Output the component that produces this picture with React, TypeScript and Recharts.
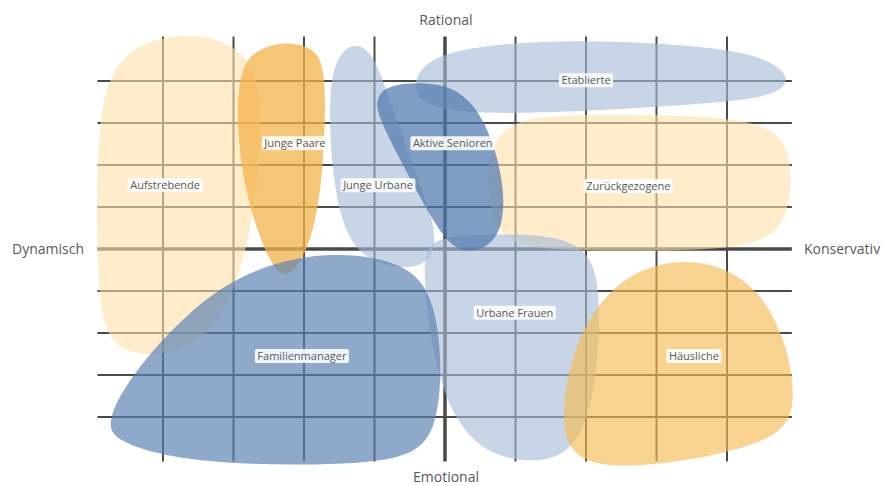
import React from "react";
import { ScatterChart, Scatter, XAxis, YAxis, Curve } from "recharts";

type Pt = [number, number];

// Segment outlines in chart units (x: dynamisch(-) .. konservativ(+), y: emotional(-) .. rational(+))
const aufstrebende: Pt[] = [
  [-4.92, 2.83], [-4.78, 4.14], [-4.4, 4.86], [-3.76, 5.14], [-3.08, 4.98], [-2.65, 4.26],
  [-2.6, 2.83], [-2.7, 0.93], [-2.94, -0.86], [-3.33, -2.05], [-3.9, -2.55], [-4.54, -2.5],
  [-4.89, -1.93], [-4.95, 0.45],
];
const jungePaare: Pt[] = [
  [-2.91, 4.26], [-2.7, 4.74], [-2.27, 4.96], [-1.84, 4.79], [-1.7, 4.26], [-1.7, 2.83],
  [-1.77, 1.17], [-1.94, -0.02], [-2.2, -0.69], [-2.41, -0.55], [-2.65, 0.33], [-2.87, 1.64],
  [-2.96, 3.07],
];
const jungeUrbane: Pt[] = [
  [-1.59, 4.26], [-1.46, 4.74], [-1.23, 4.9], [-1.01, 4.62], [-0.78, 3.55], [-0.47, 2.0],
  [-0.12, 0.57], [-0.16, -0.3], [-0.57, -0.5], [-1.17, -0.26], [-1.48, 0.6], [-1.62, 2.12],
  [-1.64, 3.55],
];
const aktiveSenioren: Pt[] = [
  [-0.95, 3.67], [-0.78, 3.93], [-0.14, 3.98], [0.33, 3.67], [0.67, 2.71], [0.87, 1.29],
  [0.78, 0.21], [0.38, -0.12], [0.04, 0.07], [-0.35, 1.21], [-0.71, 2.36], [-0.99, 3.31],
];
const etablierte: Pt[] = [
  [-0.47, 3.9], [-0.28, 4.5], [0.35, 4.81], [1.35, 4.95], [2.48, 4.95], [3.62, 4.83],
  [4.47, 4.62], [4.92, 4.14], [4.75, 3.67], [3.9, 3.48], [2.77, 3.36], [1.63, 3.26],
  [0.35, 3.21], [-0.33, 3.43],
];
const zurueckgezogene: Pt[] = [
  [0.62, 2.3], [0.9, 3.05], [1.63, 3.2], [3.05, 3.2], [4.33, 3.1], [4.9, 2.6],
  [4.93, 1.17], [4.68, 0.14], [3.62, -0.04], [2.2, -0.04], [1.06, 0.0], [0.7, 0.5],
  [0.6, 1.4],
];
const urbaneFrauen: Pt[] = [
  [-0.28, -0.02], [-0.07, 0.31], [0.78, 0.36], [1.7, 0.31], [2.11, -0.21], [2.2, -1.21],
  [2.17, -2.88], [1.99, -4.31], [1.63, -5.02], [1.06, -5.07], [0.5, -4.79], [0.04, -3.83],
  [-0.21, -2.17], [-0.3, -0.74],
];
const haeusliche: Pt[] = [
  [2.2, -1.21], [2.7, -0.5], [3.4, -0.21], [4.11, -0.5], [4.61, -1.33], [4.89, -2.52],
  [4.98, -3.83], [4.72, -4.48], [3.9, -4.9], [2.91, -5.17], [2.06, -5.17], [1.69, -4.67],
  [1.67, -3.6], [1.84, -2.29],
];
const familienmanager: Pt[] = [
  [-4.78, -4.07], [-4.54, -3.24], [-3.97, -2.05], [-3.19, -0.86], [-2.34, -0.26], [-1.49, -0.07],
  [-0.57, -0.31], [-0.16, -1.1], [-0.04, -2.64], [-0.1, -4.19], [-0.43, -4.98], [-1.49, -5.14],
  [-2.77, -5.14], [-3.9, -4.98], [-4.72, -4.55],
];

// Segment names and label anchor points
const segmentNames = [
  "Etablierte", "Junge Paare", "Aktive Senioren", "Aufstrebende", "Junge Urbane",
  "Zurückgezogene", "Urbane Frauen", "Familienmanager", "Häusliche",
];
const labelX = [2.0, -2.13, 0.11, -3.97, -0.95, 2.6, 0.99, -2.03, 3.53];
const labelY = [4.02, 2.52, 2.52, 1.52, 1.52, 1.5, -1.52, -2.55, -2.55];

// Grid
const gridX = [-4, -3, -2, -1, 0, 1, 2, 3, 4];
const gridY = [-4, -3, -2, -1, 0, 1, 2, 3, 4];
const gridXExtent: [number, number] = [-4.93, 4.92];
const gridYExtent: [number, number] = [-5.06, 5.06];

// Axis captions
const captionTop = "Rational";
const captionBottom = "Emotional";
const captionLeft = "Dynamisch";
const captionRight = "Konservativ";

const LIGHT_ORANGE = { fill: "#fde0a8", opacity: 0.6 };
const ORANGE = { fill: "#f3b34a", opacity: 0.75 };
const ORANGE2 = { fill: "#f6bb52", opacity: 0.64 };
const LIGHT_BLUE = { fill: "#a4bbd9", opacity: 0.62 };
const BLUE = { fill: "#4f78ad", opacity: 0.72 };
const BLUE2 = { fill: "#5a80b2", opacity: 0.68 };

const blobs: { key: string; pts: Pt[]; style: { fill: string; opacity: number } }[] = [
  { key: "aufstrebende", pts: aufstrebende, style: LIGHT_ORANGE },
  { key: "zurueckgezogene", pts: zurueckgezogene, style: LIGHT_ORANGE },
  { key: "etablierte", pts: etablierte, style: LIGHT_BLUE },
  { key: "jungeUrbane", pts: jungeUrbane, style: LIGHT_BLUE },
  { key: "urbaneFrauen", pts: urbaneFrauen, style: LIGHT_BLUE },
  { key: "jungePaare", pts: jungePaare, style: ORANGE },
  { key: "aktiveSenioren", pts: aktiveSenioren, style: BLUE },
  { key: "haeusliche", pts: haeusliche, style: ORANGE2 },
  { key: "familienmanager", pts: familienmanager, style: BLUE2 },
];

const FONT = '"Open Sans", "Noto Sans", sans-serif';
const TEXT_COLOR = "#58595b";

let measureCtx: CanvasRenderingContext2D | null = null;
function textWidth(t: string, font: string) {
  if (!measureCtx) {
    const c = document.createElement("canvas");
    measureCtx = c.getContext("2d");
  }
  if (!measureCtx) return t.length * 6;
  measureCtx.font = font;
  return measureCtx.measureText(t).width;
}

const LabelShape = (p: any) => {
  const name: string = p.payload?.name ?? "";
  const w = textWidth(name, `11px ${FONT}`) + 5;
  const h = 14;
  return (
    <g>
      <rect x={p.cx - w / 2} y={p.cy - h / 2} width={w} height={h} rx={2} fill="#ffffff" fillOpacity={0.88} />
      <text x={p.cx} y={p.cy + 4} textAnchor="middle" fontSize={11} fontFamily={FONT} fill={TEXT_COLOR}>
        {name}
      </text>
    </g>
  );
};

const NoShape = () => <g />;

const W = 887;
const H = 486;
const X_DOMAIN: [number, number] = [-5.5, 5.5];
const Y_DOMAIN: [number, number] = [-5.5, 5.5];

export default function App() {
  const labelData = segmentNames.map((name, i) => ({ x: labelX[i], y: labelY[i], name }));
  return (
    <div style={{ position: "absolute", left: 0, top: 0, width: W, height: H, background: "#fff" }}>
      <ScatterChart width={W} height={H} margin={{ top: 18, right: 54.25, bottom: 6, left: 57.25 }}>
        <XAxis type="number" dataKey="x" domain={X_DOMAIN} allowDataOverflow hide />
        <YAxis type="number" dataKey="y" domain={Y_DOMAIN} allowDataOverflow hide />
        {gridX.map((gx) => (
          <Scatter
            key={`gx${gx}`}
            data={[{ x: gx, y: gridYExtent[0] }, { x: gx, y: gridYExtent[1] }]}
            shape={NoShape}
            line={{ stroke: "#4a4a4a", strokeWidth: gx === 0 ? 3.5 : 2 }}
            lineType="joint"
            isAnimationActive={false}
          />
        ))}
        {gridY.map((gy) => (
          <Scatter
            key={`gy${gy}`}
            data={[{ x: gridXExtent[0], y: gy }, { x: gridXExtent[1], y: gy }]}
            shape={NoShape}
            line={{ stroke: "#4a4a4a", strokeWidth: gy === 0 ? 3.5 : 2 }}
            lineType="joint"
            isAnimationActive={false}
          />
        ))}
        {blobs.map((b) => (
          <Scatter
            key={b.key}
            data={b.pts.map(([x, y]) => ({ x, y }))}
            shape={NoShape}
            lineType="joint"
            line={(lp: any) => (
              <Curve
                points={lp.points}
                type="basisClosed"
                fill={b.style.fill}
                fillOpacity={b.style.opacity}
                stroke="none"
              />
            )}
            isAnimationActive={false}
          />
        ))}
        <Scatter data={labelData} shape={LabelShape} isAnimationActive={false} />
      </ScatterChart>
      <svg width={W} height={H} style={{ position: "absolute", left: 0, top: 0, pointerEvents: "none" }}>
        <text x={446} y={25} textAnchor="middle" fontSize={14} fontFamily={FONT} fill={TEXT_COLOR}>
          {captionTop}
        </text>
        <text x={446} y={482} textAnchor="middle" fontSize={14} fontFamily={FONT} fill={TEXT_COLOR}>
          {captionBottom}
        </text>
        <text x={12} y={254} textAnchor="start" fontSize={14} fontFamily={FONT} fill={TEXT_COLOR}>
          {captionLeft}
        </text>
        <text x={804} y={254} textAnchor="start" fontSize={14} fontFamily={FONT} fill={TEXT_COLOR}>
          {captionRight}
        </text>
      </svg>
    </div>
  );
}
